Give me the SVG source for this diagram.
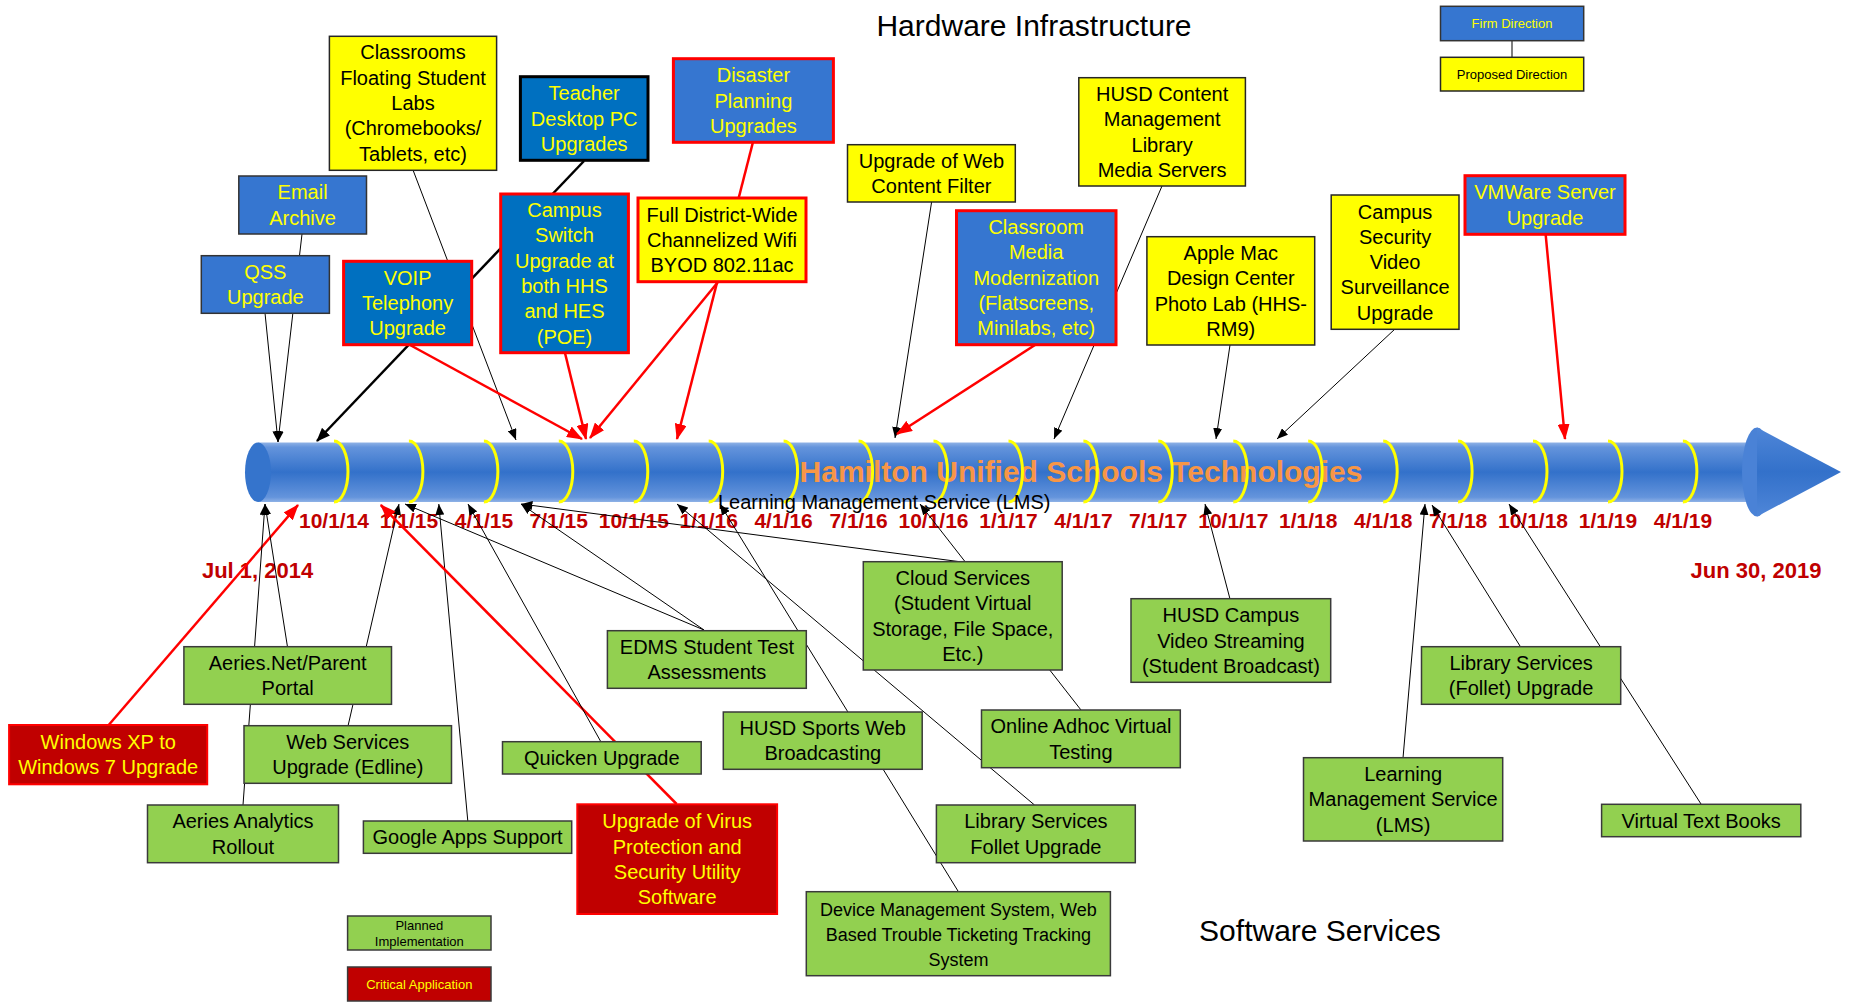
<svg xmlns="http://www.w3.org/2000/svg" width="1849" height="1008" viewBox="0 0 1849 1008">
  <style>
    text { font-family: "Liberation Sans", Arial, sans-serif; }
    .t { font-size: 20px; text-anchor: middle; }
    .ts { font-size: 18px; text-anchor: middle; }
    .tl { font-size: 13px; text-anchor: middle; }
    .ty { fill: #FFFF00; }
    .tk { fill: #000000; }
    .yel { fill: #FFFF00; stroke: #262626; stroke-width: 1.5; }
    .blu { fill: #3676D0; stroke: #333333; stroke-width: 1.5; }
    .nav { fill: #0070C0; stroke: #000000; stroke-width: 3; }
    .grn { fill: #92D050; stroke: #3A3A3A; stroke-width: 1.5; }
    .crd { fill: #C00000; stroke: #3A3A3A; stroke-width: 1.5; }
    .rb { stroke: #FF0000; stroke-width: 3; }
    .date { font-size: 21px; font-weight: bold; fill: #C00000; text-anchor: middle; }
    .c { stroke: #000000; stroke-width: 1; fill: none; marker-end: url(#ahK); }
    .ck { stroke: #000000; stroke-width: 2.5; fill: none; marker-end: url(#ahKB); }
    .cr { stroke: #FF0000; stroke-width: 2.5; fill: none; marker-end: url(#ahR); }
    .ring { fill: none; stroke: #FFFF00; stroke-width: 3; }
  </style>
  <defs>
    <linearGradient id="pipeGrad" x1="0" y1="0" x2="0" y2="1">
      <stop offset="0" stop-color="#8FB2E6"/>
      <stop offset="0.08" stop-color="#6494DC"/>
      <stop offset="0.5" stop-color="#3371CA"/>
      <stop offset="0.92" stop-color="#6494DC"/>
      <stop offset="1" stop-color="#8FB2E6"/>
    </linearGradient>
    <linearGradient id="headGrad" x1="0" y1="0" x2="0" y2="1">
      <stop offset="0" stop-color="#4F86D8"/>
      <stop offset="0.5" stop-color="#3371CA"/>
      <stop offset="1" stop-color="#4F86D8"/>
    </linearGradient>
    <marker id="ahK" markerUnits="userSpaceOnUse" markerWidth="11" markerHeight="9" refX="11" refY="4.5" orient="auto">
      <path d="M0,0 L11,4.5 L0,9 Z" fill="#000000"/>
    </marker>
    <marker id="ahKB" markerUnits="userSpaceOnUse" markerWidth="14" markerHeight="11" refX="13" refY="5.5" orient="auto">
      <path d="M0,0 L14,5.5 L0,11 Z" fill="#000000"/>
    </marker>
    <marker id="ahR" markerUnits="userSpaceOnUse" markerWidth="16" markerHeight="12" refX="15" refY="6" orient="auto">
      <path d="M0,0 L16,6 L0,12 Z" fill="#FF0000"/>
    </marker>
  </defs>

  <rect width="1849" height="1008" fill="#FFFFFF"/>

  <!-- section titles -->
  <text x="1034" y="36" font-size="30" text-anchor="middle" fill="#000">Hardware Infrastructure</text>
  <text x="1320" y="941" font-size="30" text-anchor="middle" fill="#000">Software Services</text>

  <!-- timeline pipe -->
  <g id="timeline">
    <rect x="258" y="442.5" width="1502" height="59.5" fill="url(#pipeGrad)"/>
    <ellipse cx="258" cy="472.2" rx="13" ry="29.7" fill="#3574CC"/>
    <ellipse cx="1757" cy="472" rx="15" ry="44.5" fill="#4A82D6"/>
    <path d="M1757,427.5 L1841,472 L1757,516.5 Z" fill="url(#headGrad)"/>
    <text x="1081" y="482" font-size="30" font-weight="bold" text-anchor="middle" fill="#F79646">Hamilton Unified Schools Technologies</text>
    <g id="quarter-rings">
      <path class="ring" d="M334,441 A14 30.5 0 0 1 334,502"/>
      <path class="ring" d="M408.9,441 A14 30.5 0 0 1 408.9,502"/>
      <path class="ring" d="M483.9,441 A14 30.5 0 0 1 483.9,502"/>
      <path class="ring" d="M558.8,441 A14 30.5 0 0 1 558.8,502"/>
      <path class="ring" d="M633.8,441 A14 30.5 0 0 1 633.8,502"/>
      <path class="ring" d="M708.7,441 A14 30.5 0 0 1 708.7,502"/>
      <path class="ring" d="M783.6,441 A14 30.5 0 0 1 783.6,502"/>
      <path class="ring" d="M858.6,441 A14 30.5 0 0 1 858.6,502"/>
      <path class="ring" d="M933.5,441 A14 30.5 0 0 1 933.5,502"/>
      <path class="ring" d="M1008.5,441 A14 30.5 0 0 1 1008.5,502"/>
      <path class="ring" d="M1083.4,441 A14 30.5 0 0 1 1083.4,502"/>
      <path class="ring" d="M1158.3,441 A14 30.5 0 0 1 1158.3,502"/>
      <path class="ring" d="M1233.3,441 A14 30.5 0 0 1 1233.3,502"/>
      <path class="ring" d="M1308.2,441 A14 30.5 0 0 1 1308.2,502"/>
      <path class="ring" d="M1383.2,441 A14 30.5 0 0 1 1383.2,502"/>
      <path class="ring" d="M1458.1,441 A14 30.5 0 0 1 1458.1,502"/>
      <path class="ring" d="M1533,441 A14 30.5 0 0 1 1533,502"/>
      <path class="ring" d="M1608,441 A14 30.5 0 0 1 1608,502"/>
      <path class="ring" d="M1682.9,441 A14 30.5 0 0 1 1682.9,502"/>
    </g>
    <text x="718" y="509" font-size="20" fill="#000">Learning Management Service (LMS)</text>
    <g id="quarter-dates">
      <text class="date" x="334" y="528">10/1/14</text>
      <text class="date" x="408.9" y="528">1/1/15</text>
      <text class="date" x="483.9" y="528">4/1/15</text>
      <text class="date" x="558.8" y="528">7/1/15</text>
      <text class="date" x="633.8" y="528">10/1/15</text>
      <text class="date" x="708.7" y="528">1/1/16</text>
      <text class="date" x="783.6" y="528">4/1/16</text>
      <text class="date" x="858.6" y="528">7/1/16</text>
      <text class="date" x="933.5" y="528">10/1/16</text>
      <text class="date" x="1008.5" y="528">1/1/17</text>
      <text class="date" x="1083.4" y="528">4/1/17</text>
      <text class="date" x="1158.3" y="528">7/1/17</text>
      <text class="date" x="1233.3" y="528">10/1/17</text>
      <text class="date" x="1308.2" y="528">1/1/18</text>
      <text class="date" x="1383.2" y="528">4/1/18</text>
      <text class="date" x="1458.1" y="528">7/1/18</text>
      <text class="date" x="1533" y="528">10/1/18</text>
      <text class="date" x="1608" y="528">1/1/19</text>
      <text class="date" x="1682.9" y="528">4/1/19</text>
    </g>
    <text x="257.6" y="578" font-size="22" font-weight="bold" text-anchor="middle" fill="#C00000">Jul 1, 2014</text>
    <text x="1756" y="578" font-size="22" font-weight="bold" text-anchor="middle" fill="#C00000">Jun 30, 2019</text>
  </g>

  <!-- connectors -->
  <g id="connectors">
    <line x1="1512" y1="40.7" x2="1512" y2="57.3" stroke="#7F7F7F" stroke-width="2"/>
    <!-- hardware, above the pipe -->
    <line class="c" x1="302" y1="234" x2="278" y2="442"/>
    <line class="c" x1="265" y1="313" x2="278" y2="442"/>
    <line class="ck" x1="584" y1="161" x2="317" y2="441"/>
    <line class="c" x1="413" y1="170" x2="516" y2="440"/>
    <line class="cr" x1="410" y1="345" x2="582" y2="439"/>
    <line class="cr" x1="565" y1="353" x2="586" y2="439"/>
    <line class="cr" x1="718" y1="282" x2="590" y2="438"/>
    <line class="cr" x1="753" y1="142" x2="677" y2="439"/>
    <line class="c" x1="931.6" y1="202" x2="895" y2="438"/>
    <line class="cr" x1="1035" y1="345" x2="897" y2="434"/>
    <line class="c" x1="1162" y1="186" x2="1054" y2="439"/>
    <line class="c" x1="1230" y1="345" x2="1216" y2="439"/>
    <line class="c" x1="1395" y1="329" x2="1277" y2="439"/>
    <line class="cr" x1="1545.6" y1="234" x2="1565" y2="439"/>
    <!-- software, below the pipe -->
    <line class="cr" x1="108.7" y1="725" x2="298" y2="505"/>
    <line class="c" x1="243" y1="805" x2="265" y2="504"/>
    <line class="c" x1="287.5" y1="647" x2="265" y2="504"/>
    <line class="c" x1="348" y1="726" x2="399" y2="504"/>
    <line class="c" x1="467.8" y1="821" x2="438.8" y2="504"/>
    <line class="cr" x1="676.6" y1="804" x2="380.8" y2="505"/>
    <line class="c" x1="601" y1="742" x2="468" y2="504"/>
    <line class="c" x1="704" y1="630" x2="405" y2="504"/>
    <line class="c" x1="704" y1="630" x2="521" y2="504"/>
    <line class="c" x1="962" y1="562" x2="521.4" y2="504"/>
    <line class="c" x1="1081" y1="710" x2="920" y2="504"/>
    <line class="c" x1="1034.5" y1="805" x2="677" y2="504"/>
    <line class="c" x1="958.6" y1="892" x2="720" y2="504"/>
    <line class="c" x1="1230" y1="599" x2="1205" y2="504"/>
    <line class="c" x1="1403" y1="758" x2="1425" y2="504"/>
    <line class="c" x1="1520" y1="646" x2="1432" y2="505"/>
    <line class="c" x1="1701" y1="804" x2="1509" y2="504"/>
  </g>

  <!-- legend -->
  <g id="legend-firm">
    <rect class="blu" x="1440.5" y="6.3" width="143.2" height="34.4"/>
    <text class="tl ty" x="1512" y="28">Firm Direction</text>
  </g>
  <g id="legend-proposed">
    <rect class="yel" x="1440.5" y="57.3" width="143.2" height="33.7"/>
    <text class="tl tk" x="1512" y="78.6">Proposed Direction</text>
  </g>
  <g id="legend-planned">
    <rect class="grn" x="347.6" y="916" width="143.4" height="34"/>
    <text class="tl tk" x="419.3" y="929.5">Planned</text>
    <text class="tl tk" x="419.3" y="946">Implementation</text>
  </g>
  <g id="legend-critical">
    <rect class="crd" x="347.6" y="967" width="143.4" height="34"/>
    <text class="tl ty" x="419.3" y="988.5">Critical Application</text>
  </g>

  <!-- hardware nodes -->
  <g id="node-classrooms">
    <rect class="yel" x="329.4" y="36.3" width="167.2" height="134"/>
    <text class="t tk" x="413" y="59.4">Classrooms</text>
    <text class="t tk" x="413" y="84.7">Floating Student</text>
    <text class="t tk" x="413" y="110">Labs</text>
    <text class="t tk" x="413" y="135.3">(Chromebooks/</text>
    <text class="t tk" x="413" y="160.6">Tablets, etc)</text>
  </g>
  <g id="node-teacher-pc">
    <rect class="nav" x="520.4" y="76.7" width="127.6" height="83.6"/>
    <text class="t ty" x="584.2" y="100.2">Teacher</text>
    <text class="t ty" x="584.2" y="125.5">Desktop PC</text>
    <text class="t ty" x="584.2" y="150.8">Upgrades</text>
  </g>
  <g id="node-disaster">
    <rect class="blu rb" x="673.4" y="58.7" width="160" height="83.6"/>
    <text class="t ty" x="753.4" y="82.2">Disaster</text>
    <text class="t ty" x="753.4" y="107.5">Planning</text>
    <text class="t ty" x="753.4" y="132.8">Upgrades</text>
  </g>
  <g id="node-email">
    <rect class="blu" x="238.8" y="176" width="127.7" height="58"/>
    <text class="t ty" x="302.6" y="199.4">Email</text>
    <text class="t ty" x="302.6" y="224.7">Archive</text>
  </g>
  <g id="node-qss">
    <rect class="blu" x="201.3" y="255.7" width="128.1" height="57.6"/>
    <text class="t ty" x="265.3" y="278.9">QSS</text>
    <text class="t ty" x="265.3" y="304.2">Upgrade</text>
  </g>
  <g id="node-voip">
    <rect class="nav rb" x="343.6" y="261.3" width="128.1" height="83.4"/>
    <text class="t ty" x="407.6" y="284.7">VOIP</text>
    <text class="t ty" x="407.6" y="310">Telephony</text>
    <text class="t ty" x="407.6" y="335.3">Upgrade</text>
  </g>
  <g id="node-campus-switch">
    <rect class="nav rb" x="500.7" y="194" width="127.7" height="158.7"/>
    <text class="t ty" x="564.5" y="217.1">Campus</text>
    <text class="t ty" x="564.5" y="242.4">Switch</text>
    <text class="t ty" x="564.5" y="267.7">Upgrade at</text>
    <text class="t ty" x="564.5" y="293">both HHS</text>
    <text class="t ty" x="564.5" y="318.3">and HES</text>
    <text class="t ty" x="564.5" y="343.6">(POE)</text>
  </g>
  <g id="node-wifi">
    <rect class="yel rb" x="638" y="198" width="168" height="83.7"/>
    <text class="t tk" x="722" y="214.5" dy="7">Full District-Wide</text>
    <text class="t tk" x="722" y="239.8" dy="7">Channelized Wifi</text>
    <text class="t tk" x="722" y="265.1" dy="7">BYOD 802.11ac</text>
  </g>
  <g id="node-web-filter">
    <rect class="yel" x="847.5" y="144.7" width="167.8" height="57.3"/>
    <text class="t tk" x="931.4" y="167.7">Upgrade of Web</text>
    <text class="t tk" x="931.4" y="193">Content Filter</text>
  </g>
  <g id="node-classroom-media">
    <rect class="blu rb" x="956.5" y="210.7" width="159.5" height="134"/>
    <text class="t ty" x="1036.2" y="234">Classroom</text>
    <text class="t ty" x="1036.2" y="259.3">Media</text>
    <text class="t ty" x="1036.2" y="284.6">Modernization</text>
    <text class="t ty" x="1036.2" y="309.9">(Flatscreens,</text>
    <text class="t ty" x="1036.2" y="335.2">Minilabs, etc)</text>
  </g>
  <g id="node-content-mgmt">
    <rect class="yel" x="1078.8" y="77.7" width="166.6" height="108.3"/>
    <text class="t tk" x="1162.1" y="100.9">HUSD Content</text>
    <text class="t tk" x="1162.1" y="126.2">Management</text>
    <text class="t tk" x="1162.1" y="151.5">Library</text>
    <text class="t tk" x="1162.1" y="176.8">Media Servers</text>
  </g>
  <g id="node-apple-mac">
    <rect class="yel" x="1146.9" y="236.7" width="167.8" height="108.3"/>
    <text class="t tk" x="1230.8" y="259.9">Apple Mac</text>
    <text class="t tk" x="1230.8" y="285.2">Design Center</text>
    <text class="t tk" x="1230.8" y="310.5">Photo Lab (HHS-</text>
    <text class="t tk" x="1230.8" y="335.8">RM9)</text>
  </g>
  <g id="node-campus-security">
    <rect class="yel" x="1331.2" y="195" width="127.8" height="134.3"/>
    <text class="t tk" x="1395.1" y="218.5">Campus</text>
    <text class="t tk" x="1395.1" y="243.8">Security</text>
    <text class="t tk" x="1395.1" y="269.1">Video</text>
    <text class="t tk" x="1395.1" y="294.4">Surveillance</text>
    <text class="t tk" x="1395.1" y="319.7">Upgrade</text>
  </g>
  <g id="node-vmware">
    <rect class="blu rb" x="1465" y="175.7" width="160" height="58.6"/>
    <text class="t ty" x="1545" y="199.3">VMWare Server</text>
    <text class="t ty" x="1545" y="224.6">Upgrade</text>
  </g>

  <!-- software nodes -->
  <g id="node-windows">
    <rect class="crd rb" x="9.1" y="725" width="198.1" height="59.3" style="stroke-width:2"/>
    <text class="t ty" x="108.2" y="748.7">Windows XP to</text>
    <text class="t ty" x="108.2" y="774">Windows 7 Upgrade</text>
  </g>
  <g id="node-aeries-portal">
    <rect class="grn" x="183.9" y="646.7" width="207.6" height="57.6"/>
    <text class="t tk" x="287.7" y="669.9">Aeries.Net/Parent</text>
    <text class="t tk" x="287.7" y="695.2">Portal</text>
  </g>
  <g id="node-web-services">
    <rect class="grn" x="244" y="725.7" width="207.5" height="57.6"/>
    <text class="t tk" x="347.8" y="748.9">Web Services</text>
    <text class="t tk" x="347.8" y="774.2">Upgrade (Edline)</text>
  </g>
  <g id="node-aeries-analytics">
    <rect class="grn" x="147.5" y="805" width="191" height="57.7"/>
    <text class="t tk" x="243" y="828.2">Aeries Analytics</text>
    <text class="t tk" x="243" y="853.5">Rollout</text>
  </g>
  <g id="node-google-apps">
    <rect class="grn" x="363.4" y="821" width="208.3" height="32.3"/>
    <text class="t tk" x="467.6" y="844.2">Google Apps Support</text>
  </g>
  <g id="node-quicken">
    <rect class="grn" x="502.5" y="741.7" width="198.7" height="32.3"/>
    <text class="t tk" x="601.8" y="764.9">Quicken Upgrade</text>
  </g>
  <g id="node-virus">
    <rect class="crd rb" x="577.3" y="804.3" width="199.8" height="109.7" style="stroke-width:2"/>
    <text class="t ty" x="677.2" y="828.2">Upgrade of Virus</text>
    <text class="t ty" x="677.2" y="853.5">Protection and</text>
    <text class="t ty" x="677.2" y="878.8">Security Utility</text>
    <text class="t ty" x="677.2" y="904.1">Software</text>
  </g>
  <g id="node-edms">
    <rect class="grn" x="607.4" y="630.7" width="198.9" height="57.6"/>
    <text class="t tk" x="706.9" y="653.9">EDMS Student Test</text>
    <text class="t tk" x="706.9" y="679.2">Assessments</text>
  </g>
  <g id="node-sports">
    <rect class="grn" x="723.3" y="712" width="198.9" height="57.3"/>
    <text class="t tk" x="822.8" y="735">HUSD Sports Web</text>
    <text class="t tk" x="822.8" y="760.3">Broadcasting</text>
  </g>
  <g id="node-cloud">
    <rect class="grn" x="863.3" y="561.7" width="198.9" height="108.3"/>
    <text class="t tk" x="962.8" y="585">Cloud Services</text>
    <text class="t tk" x="962.8" y="610.3">(Student Virtual</text>
    <text class="t tk" x="962.8" y="635.6">Storage, File Space,</text>
    <text class="t tk" x="962.8" y="660.9">Etc.)</text>
  </g>
  <g id="node-adhoc">
    <rect class="grn" x="981.5" y="710" width="198.8" height="57.7"/>
    <text class="t tk" x="1080.9" y="733.2">Online Adhoc Virtual</text>
    <text class="t tk" x="1080.9" y="758.5">Testing</text>
  </g>
  <g id="node-library-follet">
    <rect class="grn" x="936.4" y="805" width="198.9" height="57.7"/>
    <text class="t tk" x="1035.9" y="828.2">Library Services</text>
    <text class="t tk" x="1035.9" y="853.5">Follet Upgrade</text>
  </g>
  <g id="node-device-mgmt">
    <rect class="grn" x="806.3" y="891.7" width="304.1" height="84"/>
    <text class="ts tk" x="958.4" y="915.8">Device Management System, Web</text>
    <text class="ts tk" x="958.4" y="940.8">Based Trouble Ticketing Tracking</text>
    <text class="ts tk" x="958.4" y="965.8">System</text>
  </g>
  <g id="node-campus-video">
    <rect class="grn" x="1131" y="598.7" width="199.7" height="83.6"/>
    <text class="t tk" x="1230.9" y="622.2">HUSD Campus</text>
    <text class="t tk" x="1230.9" y="647.5">Video Streaming</text>
    <text class="t tk" x="1230.9" y="672.8">(Student Broadcast)</text>
  </g>
  <g id="node-library-services">
    <rect class="grn" x="1421.5" y="646.7" width="199.2" height="57.6"/>
    <text class="t tk" x="1521.1" y="669.9">Library Services</text>
    <text class="t tk" x="1521.1" y="695.2">(Follet) Upgrade</text>
  </g>
  <g id="node-lms">
    <rect class="grn" x="1303.5" y="757.7" width="199.2" height="83.3"/>
    <text class="t tk" x="1403.1" y="781">Learning</text>
    <text class="t tk" x="1403.1" y="806.3">Management Service</text>
    <text class="t tk" x="1403.1" y="831.6">(LMS)</text>
  </g>
  <g id="node-text-books">
    <rect class="grn" x="1601.6" y="804.3" width="199.2" height="32.4"/>
    <text class="t tk" x="1701.2" y="827.5">Virtual Text Books</text>
  </g>
</svg>
